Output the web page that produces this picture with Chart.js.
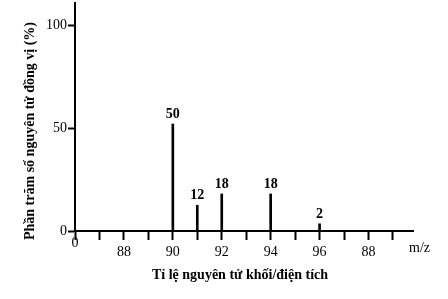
<!DOCTYPE html>
<html>
<head>
<meta charset="utf-8">
<script src="https://cdn.jsdelivr.net/npm/chart.js@4/dist/chart.umd.min.js"></script>
<style>
  html, body { margin: 0; padding: 0; background: #fff; }
  #wrap { width: 448px; height: 299px; }
</style>
</head>
<body>
<div id="wrap"><canvas id="msChart" width="448" height="299"></canvas></div>
<script>
// ==========================
// DATOS
// ==========================
const peakMass = [90, 91, 92, 94, 96];
const peakHeight = [52, 12.5, 18, 18, 3.5];
const peakLabels = ["50", "12", "18", "18", "2"];

const xTickValues = [86, 87, 88, 89, 90, 91, 92, 93, 94, 95, 96, 97, 98, 99];
const xLabelValues = [88, 90, 92, 94, 96, 98];
const xLabelText = ["88", "90", "92", "94", "96", "88"];
const yTickValues = [0, 50, 100];

const yTitle = "Phần trăm số nguyên tử đồng vị (%)";
const xTitle = "Tỉ lệ nguyên tử khối/điện tích";
const xUnit = "m/z";
const originLabel = "0";

Chart.defaults.font.family = "'Liberation Serif', 'Times New Roman', serif";
Chart.defaults.font.size = 14;
Chart.defaults.color = "#000";

// ==========================
// TEXTOS EXTRA
// ==========================
const labelsPlugin = {
    id: "labelsPlugin",
    afterDraw(chart){
        const ctx = chart.ctx;
        const xs = chart.scales.x;
        const ys = chart.scales.y;
        ctx.save();
        ctx.fillStyle = "#000";

        // etiquetas de los picos
        ctx.font = "bold 14px 'Liberation Serif', serif";
        ctx.textAlign = "center";
        ctx.textBaseline = "alphabetic";
        peakMass.forEach((m, i) => {
            const px = xs.getPixelForValue(m);
            const py = ys.getPixelForValue(peakHeight[i]);
            ctx.fillText(peakLabels[i], px, py - 6);
        });

        // origen y m/z
        ctx.font = "14px 'Liberation Serif', serif";
        ctx.textBaseline = "middle";
        ctx.fillText(originLabel, xs.getPixelForValue(xs.min), ys.getPixelForValue(0) + 12);
        ctx.textAlign = "left";
        ctx.fillText(xUnit, xs.right - 4, ys.getPixelForValue(0) + 17);

        // títulos
        ctx.font = "bold 14px 'Liberation Serif', serif";
        ctx.textAlign = "center";
        ctx.fillText(xTitle, 240, 275);
        ctx.translate(30, 131);
        ctx.rotate(-Math.PI / 2);
        ctx.fillText(yTitle, 0, 0);
        ctx.restore();
    }
};

// ==========================
// GRÁFICA
// ==========================
const msChart = new Chart(document.getElementById("msChart"), {
    type: "bar",
    data: {
        datasets: [{
            data: peakMass.map((m, i) => ({ x: m, y: peakHeight[i] })),
            backgroundColor: "#000",
            borderWidth: 0,
            barThickness: 2
        }]
    },
    options: {
        responsive: false,
        animation: false,
        layout: { padding: { top: 3, right: 35, left: 0, bottom: 0 } },
        plugins: {
            legend: { display: false },
            tooltip: { enabled: false }
        },
        scales: {
            x: {
                type: "linear",
                min: 86,
                max: 99.82,
                offset: false,
                afterBuildTicks: scale => {
                    scale.ticks = xTickValues.map(v => ({ value: v }));
                },
                afterFit: scale => {
                    scale.height = 68;
                    scale.paddingLeft = 0;
                    scale.paddingRight = 0;
                },
                ticks: {
                    autoSkip: false,
                    maxRotation: 0,
                    padding: 4,
                    callback: v => {
                        const k = xLabelValues.indexOf(v);
                        return k >= 0 ? xLabelText[k] : "";
                    }
                },
                grid: {
                    offset: false,
                    drawOnChartArea: false,
                    tickLength: 9,
                    tickWidth: 2,
                    tickColor: "#000"
                },
                border: { color: "#000", width: 2 }
            },
            y: {
                min: 0,
                max: 110.8,
                afterBuildTicks: scale => {
                    scale.ticks = yTickValues.map(v => ({ value: v }));
                },
                afterFit: scale => {
                    scale.width = 75;
                    scale.paddingTop = 0;
                    scale.paddingBottom = 0;
                },
                ticks: { padding: 1 },
                grid: {
                    drawOnChartArea: false,
                    tickLength: 7,
                    tickWidth: 2,
                    tickColor: "#000"
                },
                border: { color: "#000", width: 2 }
            }
        }
    },
    plugins: [labelsPlugin]
});
</script>
</body>
</html>
